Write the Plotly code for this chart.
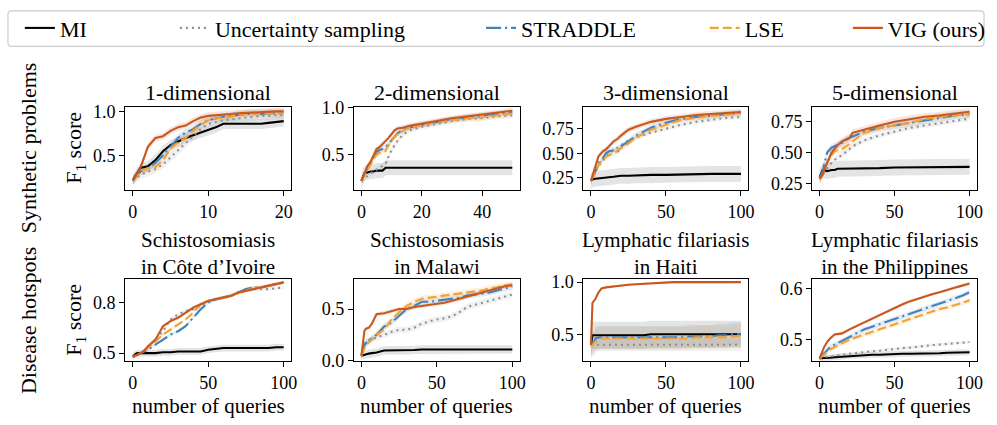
import plotly.graph_objects as go

W, H = 997, 425

METHODS = ["MI", "Uncertainty sampling", "STRADDLE", "LSE", "VIG (ours)"]
COLORS = {
    "MI": "#000000",
    "Uncertainty sampling": "#8a9196",
    "STRADDLE": "#4481bd",
    "LSE": "#f2a235",
    "VIG (ours)": "#c9571f",
}
BAND_COLORS = {
    "MI": "rgba(120,120,120,0.20)",
    "Uncertainty sampling": "rgba(140,140,140,0.12)",
    "STRADDLE": "rgba(68,129,189,0.15)",
    "LSE": "rgba(242,162,53,0.15)",
    "VIG (ours)": "rgba(201,87,31,0.15)",
}
DASHES = {
    "MI": "solid",
    "Uncertainty sampling": "2px,4px",
    "STRADDLE": "15px,4px,2px,4px",
    "LSE": "9px,4px",
    "VIG (ours)": "solid",
}

# ---- Synthetic problems ----
X_1D = list(range(21))
P1 = {
    "MI": [0.22, 0.36, 0.38, 0.45, 0.55, 0.62, 0.66, 0.70, 0.73, 0.76, 0.79, 0.82, 0.86, 0.86, 0.86, 0.86, 0.86, 0.86, 0.87, 0.88, 0.89],
    "Uncertainty sampling": [0.22, 0.28, 0.32, 0.35, 0.40, 0.48, 0.56, 0.64, 0.72, 0.80, 0.86, 0.88, 0.90, 0.91, 0.92, 0.93, 0.94, 0.95, 0.95, 0.96, 0.96],
    "STRADDLE": [0.22, 0.32, 0.36, 0.42, 0.50, 0.60, 0.70, 0.76, 0.80, 0.86, 0.90, 0.92, 0.94, 0.95, 0.96, 0.97, 0.97, 0.97, 0.98, 0.98, 0.98],
    "LSE": [0.22, 0.32, 0.36, 0.37, 0.45, 0.58, 0.65, 0.70, 0.78, 0.85, 0.90, 0.92, 0.93, 0.94, 0.96, 0.97, 0.97, 0.98, 0.98, 0.98, 0.98],
    "VIG (ours)": [0.22, 0.36, 0.60, 0.70, 0.72, 0.78, 0.82, 0.84, 0.89, 0.93, 0.95, 0.955, 0.96, 0.97, 0.98, 0.985, 0.99, 0.99, 1.0, 1.0, 1.0],
}
B1 = {"MI": 0.06, "Uncertainty sampling": 0.05, "STRADDLE": 0.04, "LSE": 0.05, "VIG (ours)": 0.04}

X_2D = [0, 1, 2, 3, 4, 5, 6, 7, 8, 9, 10, 11, 12, 14, 16, 20, 25, 30, 35, 40, 45, 50]
P2 = {
    "MI": [0.22, 0.30, 0.31, 0.32, 0.32, 0.33, 0.33, 0.33, 0.36, 0.36, 0.36, 0.36, 0.36, 0.36, 0.36, 0.36, 0.36, 0.36, 0.36, 0.36, 0.36, 0.36],
    "Uncertainty sampling": [0.22, 0.25, 0.28, 0.30, 0.32, 0.34, 0.36, 0.38, 0.40, 0.48, 0.55, 0.60, 0.65, 0.72, 0.76, 0.80, 0.83, 0.86, 0.88, 0.89, 0.91, 0.92],
    "STRADDLE": [0.22, 0.30, 0.36, 0.42, 0.47, 0.53, 0.55, 0.56, 0.58, 0.62, 0.66, 0.70, 0.73, 0.77, 0.79, 0.82, 0.85, 0.88, 0.90, 0.92, 0.94, 0.95],
    "LSE": [0.22, 0.28, 0.33, 0.40, 0.45, 0.50, 0.52, 0.53, 0.54, 0.60, 0.65, 0.69, 0.72, 0.76, 0.79, 0.82, 0.85, 0.87, 0.89, 0.90, 0.92, 0.94],
    "VIG (ours)": [0.22, 0.30, 0.38, 0.42, 0.50, 0.56, 0.58, 0.61, 0.64, 0.68, 0.72, 0.76, 0.78, 0.79, 0.81, 0.83, 0.86, 0.89, 0.91, 0.93, 0.95, 0.97],
}
B2 = {"MI": 0.08, "Uncertainty sampling": 0.03, "STRADDLE": 0.03, "LSE": 0.03, "VIG (ours)": 0.03}

X_3D = [0, 2, 3, 5, 8, 10, 12, 15, 18, 20, 25, 30, 40, 50, 60, 70, 80, 90, 100]
P3 = {
    "MI": [0.22, 0.24, 0.24, 0.245, 0.25, 0.25, 0.255, 0.26, 0.27, 0.27, 0.27, 0.275, 0.28, 0.28, 0.285, 0.285, 0.29, 0.29, 0.29],
    "Uncertainty sampling": [0.22, 0.27, 0.30, 0.37, 0.43, 0.47, 0.50, 0.53, 0.56, 0.58, 0.63, 0.66, 0.71, 0.75, 0.79, 0.82, 0.84, 0.86, 0.87],
    "STRADDLE": [0.22, 0.28, 0.32, 0.40, 0.45, 0.50, 0.52, 0.53, 0.52, 0.57, 0.62, 0.68, 0.76, 0.81, 0.85, 0.87, 0.88, 0.90, 0.91],
    "LSE": [0.22, 0.27, 0.30, 0.38, 0.44, 0.46, 0.48, 0.50, 0.53, 0.55, 0.60, 0.66, 0.74, 0.79, 0.84, 0.86, 0.88, 0.89, 0.91],
    "VIG (ours)": [0.22, 0.33, 0.38, 0.47, 0.52, 0.54, 0.57, 0.62, 0.65, 0.68, 0.74, 0.77, 0.82, 0.85, 0.87, 0.89, 0.90, 0.91, 0.92],
}
B3 = {"MI": 0.08, "Uncertainty sampling": 0.02, "STRADDLE": 0.03, "LSE": 0.03, "VIG (ours)": 0.03}

X_5D = [0, 2, 3, 5, 8, 10, 12, 15, 20, 22, 25, 30, 40, 50, 60, 70, 80, 90, 100]
P4 = {
    "MI": [0.30, 0.36, 0.36, 0.35, 0.36, 0.36, 0.37, 0.37, 0.37, 0.37, 0.37, 0.375, 0.375, 0.38, 0.38, 0.38, 0.385, 0.385, 0.385],
    "Uncertainty sampling": [0.29, 0.32, 0.34, 0.37, 0.42, 0.44, 0.46, 0.48, 0.53, 0.55, 0.57, 0.60, 0.64, 0.67, 0.70, 0.72, 0.74, 0.76, 0.775],
    "STRADDLE": [0.29, 0.35, 0.40, 0.50, 0.54, 0.55, 0.56, 0.58, 0.62, 0.63, 0.65, 0.67, 0.70, 0.72, 0.74, 0.76, 0.78, 0.80, 0.81],
    "LSE": [0.29, 0.32, 0.35, 0.42, 0.48, 0.51, 0.52, 0.53, 0.57, 0.59, 0.62, 0.66, 0.70, 0.72, 0.74, 0.77, 0.79, 0.80, 0.81],
    "VIG (ours)": [0.29, 0.32, 0.36, 0.42, 0.50, 0.53, 0.56, 0.59, 0.62, 0.66, 0.67, 0.69, 0.72, 0.75, 0.77, 0.79, 0.80, 0.815, 0.83],
}
B4 = {"MI": 0.065, "Uncertainty sampling": 0.02, "STRADDLE": 0.03, "LSE": 0.03, "VIG (ours)": 0.03}

# ---- Disease hotspots ----
X_REAL = [0, 1, 2, 3, 5, 7, 10, 15, 20, 25, 30, 35, 40, 45, 50, 55, 60, 65, 70, 75, 80, 85, 90, 95, 100]
P5 = {
    "MI": [0.48, 0.49, 0.495, 0.50, 0.50, 0.50, 0.50, 0.50, 0.505, 0.505, 0.51, 0.51, 0.51, 0.51, 0.52, 0.525, 0.53, 0.53, 0.53, 0.53, 0.53, 0.53, 0.53, 0.535, 0.535],
    "Uncertainty sampling": [0.48, 0.48, 0.485, 0.49, 0.50, 0.51, 0.54, 0.58, 0.63, 0.70, 0.73, 0.75, 0.76, 0.78, 0.81, 0.82, 0.83, 0.84, 0.86, 0.87, 0.88, 0.88, 0.88, 0.885, 0.89],
    "STRADDLE": [0.48, 0.48, 0.485, 0.49, 0.50, 0.505, 0.52, 0.55, 0.58, 0.61, 0.63, 0.66, 0.71, 0.76, 0.80, 0.82, 0.83, 0.84, 0.86, 0.88, 0.89, 0.89, 0.90, 0.91, 0.92],
    "LSE": [0.48, 0.48, 0.485, 0.49, 0.50, 0.51, 0.53, 0.57, 0.61, 0.64, 0.67, 0.70, 0.74, 0.79, 0.81, 0.82, 0.83, 0.84, 0.86, 0.87, 0.89, 0.89, 0.90, 0.91, 0.92],
    "VIG (ours)": [0.48, 0.485, 0.49, 0.49, 0.50, 0.51, 0.54, 0.58, 0.66, 0.69, 0.71, 0.74, 0.77, 0.79, 0.81, 0.82, 0.83, 0.84, 0.86, 0.87, 0.88, 0.89, 0.90, 0.91, 0.92],
}
B5 = {"MI": 0.02, "Uncertainty sampling": 0.01, "STRADDLE": 0.01, "LSE": 0.01, "VIG (ours)": 0.01}

P6 = {
    "MI": [0.05, 0.055, 0.06, 0.065, 0.07, 0.075, 0.08, 0.10, 0.10, 0.10, 0.10, 0.105, 0.11, 0.11, 0.11, 0.11, 0.11, 0.11, 0.11, 0.11, 0.11, 0.11, 0.11, 0.11, 0.11],
    "Uncertainty sampling": [0.05, 0.12, 0.18, 0.19, 0.20, 0.21, 0.22, 0.25, 0.28, 0.30, 0.30, 0.32, 0.36, 0.38, 0.40, 0.41, 0.43, 0.47, 0.52, 0.54, 0.56, 0.58, 0.60, 0.62, 0.64],
    "STRADDLE": [0.05, 0.10, 0.15, 0.17, 0.20, 0.22, 0.25, 0.33, 0.37, 0.44, 0.50, 0.53, 0.57, 0.57, 0.58, 0.59, 0.60, 0.61, 0.63, 0.64, 0.65, 0.66, 0.68, 0.70, 0.71],
    "LSE": [0.05, 0.09, 0.13, 0.15, 0.18, 0.21, 0.25, 0.30, 0.40, 0.47, 0.53, 0.57, 0.60, 0.61, 0.62, 0.63, 0.64, 0.65, 0.66, 0.67, 0.68, 0.70, 0.71, 0.73, 0.74],
    "VIG (ours)": [0.05, 0.20, 0.29, 0.31, 0.32, 0.36, 0.45, 0.46, 0.48, 0.50, 0.50, 0.52, 0.53, 0.54, 0.55, 0.56, 0.58, 0.60, 0.62, 0.64, 0.66, 0.68, 0.70, 0.72, 0.73],
}
B6 = {"MI": 0.04, "Uncertainty sampling": 0.03, "STRADDLE": 0.03, "LSE": 0.03, "VIG (ours)": 0.02}

P7 = {
    "MI": [0.40, 0.49, 0.49, 0.49, 0.49, 0.49, 0.49, 0.49, 0.49, 0.49, 0.49, 0.49, 0.50, 0.50, 0.50, 0.50, 0.50, 0.50, 0.50, 0.50, 0.50, 0.50, 0.50, 0.50, 0.50],
    "Uncertainty sampling": [0.40, 0.40, 0.40, 0.40, 0.40, 0.40, 0.40, 0.40, 0.40, 0.40, 0.40, 0.40, 0.40, 0.40, 0.40, 0.40, 0.40, 0.40, 0.40, 0.40, 0.40, 0.40, 0.40, 0.40, 0.40],
    "STRADDLE": [0.40, 0.41, 0.42, 0.46, 0.47, 0.47, 0.47, 0.47, 0.47, 0.47, 0.47, 0.47, 0.47, 0.47, 0.47, 0.47, 0.47, 0.48, 0.48, 0.48, 0.48, 0.49, 0.49, 0.50, 0.50],
    "LSE": [0.38, 0.40, 0.42, 0.43, 0.45, 0.46, 0.46, 0.46, 0.46, 0.46, 0.46, 0.46, 0.46, 0.46, 0.46, 0.46, 0.46, 0.46, 0.47, 0.47, 0.47, 0.47, 0.47, 0.48, 0.48],
    "VIG (ours)": [0.40, 0.80, 0.82, 0.84, 0.90, 0.94, 0.95, 0.96, 0.97, 0.975, 0.98, 0.985, 0.99, 0.995, 1.0, 1.0, 1.0, 1.0, 1.0, 1.0, 1.0, 1.0, 1.0, 1.0, 1.0],
}
B7 = {"MI": 0.13, "Uncertainty sampling": 0.06, "STRADDLE": 0.11, "LSE": 0.11, "VIG (ours)": 0.01}

P8 = {
    "MI": [0.463, 0.463, 0.463, 0.464, 0.464, 0.464, 0.465, 0.466, 0.468, 0.469, 0.469, 0.47, 0.47, 0.471, 0.471, 0.472, 0.472, 0.472, 0.473, 0.473, 0.473, 0.474, 0.474, 0.475, 0.475],
    "Uncertainty sampling": [0.463, 0.464, 0.465, 0.465, 0.466, 0.467, 0.468, 0.47, 0.472, 0.474, 0.475, 0.477, 0.478, 0.48, 0.481, 0.483, 0.484, 0.486, 0.487, 0.489, 0.49, 0.491, 0.492, 0.494, 0.495],
    "STRADDLE": [0.463, 0.466, 0.47, 0.473, 0.48, 0.485, 0.49, 0.497, 0.505, 0.513, 0.52, 0.525, 0.53, 0.535, 0.54, 0.545, 0.55, 0.555, 0.56, 0.565, 0.57, 0.575, 0.58, 0.586, 0.593],
    "LSE": [0.463, 0.465, 0.468, 0.47, 0.475, 0.48, 0.485, 0.492, 0.50, 0.505, 0.51, 0.515, 0.52, 0.525, 0.53, 0.535, 0.54, 0.545, 0.55, 0.555, 0.56, 0.563, 0.567, 0.572, 0.577],
    "VIG (ours)": [0.463, 0.47, 0.48, 0.485, 0.495, 0.502, 0.51, 0.512, 0.52, 0.527, 0.535, 0.541, 0.548, 0.555, 0.562, 0.569, 0.575, 0.58, 0.585, 0.589, 0.593, 0.598, 0.602, 0.606, 0.61],
}
B8 = {"MI": 0.006, "Uncertainty sampling": 0.003, "STRADDLE": 0.005, "LSE": 0.005, "VIG (ours)": 0.003}

TITLES = [
    "1-dimensional", "2-dimensional", "3-dimensional", "5-dimensional",
    "Schistosomiasis<br>in Côte d’Ivoire", "Schistosomiasis<br>in Malawi",
    "Lymphatic filariasis<br>in Haiti", "Lymphatic filariasis<br>in the Philippines",
]
ROW_LABELS = ["Synthetic problems", "Disease hotspots"]
PANELS = [
    (X_1D, P1, B1), (X_2D, P2, B2), (X_3D, P3, B3), (X_5D, P4, B4),
    (X_REAL, P5, B5), (X_REAL, P6, B6), (X_REAL, P7, B7), (X_REAL, P8, B8),
]
X_RANGES = [[-1, 21], [-2.5, 52.5]] + [[-5, 105]] * 6
Y_RANGES = [[0.112, 1.054], [0.123, 1.014], [0.126, 0.975], [0.198, 0.872],
            [0.451, 0.94], [-0.005, 0.79], [0.24, 1.03], [0.457, 0.619]]
X_TICKS = [[0, 10, 20], [0, 20, 40]] + [[0, 50, 100]] * 6
Y_TICKS = [[0.5, 1.0], [0.5, 1.0], [0.25, 0.5, 0.75], [0.25, 0.5, 0.75],
           [0.5, 0.8], [0.0, 0.5], [0.5, 1.0], [0.5, 0.6]]
Y_TICKFMT = [".1f", ".1f", ".2f", ".2f", ".1f", ".1f", ".1f", ".1f"]

# axes placement in pixels: column x-extents and row y-extents (top, bottom)
COL_PX = [(126, 293), (356, 523), (587, 753), (817, 983)]
ROW_PX = [(103, 190), (283, 369)]
# vertical centre of the panel titles in each row
TITLE_PY = [88, 256]
# left pixel of each legend entry
LEGEND_PX = [20, 176, 484, 709, 853]

FONT = "Liberation Serif"
TXT = dict(family=FONT, color="black")
fig = go.Figure()


def paper_x(px):
    return px / W


def paper_y(py):
    return 1 - py / H


for i, (xs, series, bands) in enumerate(PANELS):
    r, c = divmod(i, 4)
    xa = "x" if i == 0 else f"x{i + 1}"
    ya = "y" if i == 0 else f"y{i + 1}"
    # shaded spread first, then mean curves on top
    for m in METHODS:
        ys = series[m]
        hw = bands[m]
        upper = [v + hw for v in ys]
        lower = [v - hw for v in ys]
        fig.add_trace(go.Scatter(
            x=list(xs) + list(xs)[::-1], y=upper + lower[::-1],
            fill="toself", fillcolor=BAND_COLORS[m], line=dict(width=0),
            mode="lines", hoverinfo="skip", showlegend=False,
            xaxis=xa, yaxis=ya,
        ))
    for k, m in enumerate(METHODS):
        fig.add_trace(go.Scatter(
            x=xs, y=series[m], mode="lines", name=m,
            line=dict(color=COLORS[m], width=2.1, dash=DASHES[m]),
            showlegend=(i == 0),
            legend="legend" if k == 0 else f"legend{k + 1}",
            xaxis=xa, yaxis=ya,
        ))

    x0, x1 = COL_PX[c]
    top, bot = ROW_PX[r]
    common = dict(showline=True, linecolor="black", linewidth=1.2, mirror=True,
                  ticks="outside", ticklen=5, tickwidth=1.2, tickcolor="black",
                  showgrid=False, zeroline=False,
                  tickfont=dict(size=18, **TXT))
    fig.layout[f"xaxis{'' if i == 0 else i + 1}"] = dict(
        domain=[paper_x(x0), paper_x(x1)], anchor=ya, range=X_RANGES[i],
        tickvals=X_TICKS[i], **common)
    fig.layout[f"yaxis{'' if i == 0 else i + 1}"] = dict(
        domain=[paper_y(bot), paper_y(top)], anchor=xa, range=Y_RANGES[i],
        tickvals=Y_TICKS[i], tickformat=Y_TICKFMT[i], **common)

    xc = paper_x((x0 + x1) / 2)
    fig.add_annotation(text=TITLES[i], xref="paper", yref="paper", x=xc,
                       y=paper_y(TITLE_PY[r]), xanchor="center", yanchor="middle",
                       showarrow=False, font=dict(size=21 if r else 22, **TXT))
    if r == 1:
        fig.add_annotation(
            text="number of queries", xref="paper", yref="paper",
            x=xc, y=paper_y(416), xanchor="center", yanchor="middle",
            showarrow=False, font=dict(size=21, **TXT),
        )

# y-axis labels and row labels
for r, (top, bot) in enumerate(ROW_PX):
    yc = paper_y((top + bot) / 2)
    fig.add_annotation(
        text="F<sub>1</sub> score", xref="paper", yref="paper",
        x=paper_x(76), y=yc, textangle=-90, xanchor="center", yanchor="middle",
        showarrow=False, font=dict(size=22, **TXT),
    )
    fig.add_annotation(
        text=ROW_LABELS[r], xref="paper", yref="paper",
        x=paper_x(28), y=yc, textangle=-90, xanchor="center", yanchor="middle",
        showarrow=False, font=dict(size=22, **TXT),
    )

# frame drawn around the whole legend row
x_l, x_r, y_t, y_b, rad = paper_x(8), paper_x(990), paper_y(3), paper_y(40), 4
rx, ry = rad / W, rad / H
frame_path = (
    f"M{x_l + rx},{y_t} L{x_r - rx},{y_t} Q{x_r},{y_t} {x_r},{y_t - ry} "
    f"L{x_r},{y_b + ry} Q{x_r},{y_b} {x_r - rx},{y_b} "
    f"L{x_l + rx},{y_b} Q{x_l},{y_b} {x_l},{y_b + ry} "
    f"L{x_l},{y_t - ry} Q{x_l},{y_t} {x_l + rx},{y_t} Z"
)
fig.add_shape(type="path", path=frame_path, xref="paper", yref="paper",
              line=dict(color="#cccccc", width=1.2), fillcolor="white", layer="below")

legends = {}
for k, px in enumerate(LEGEND_PX):
    key = "legend" if k == 0 else f"legend{k + 1}"
    legends[key] = dict(
        orientation="h", x=paper_x(px), y=paper_y(21), xanchor="left", yanchor="middle",
        bgcolor="rgba(0,0,0,0)", borderwidth=0,
        font=dict(size=22, **TXT),
    )

fig.update_layout(
    width=W, height=H,
    margin=dict(l=0, r=0, t=0, b=0),
    paper_bgcolor="white", plot_bgcolor="white",
    font=TXT,
    **legends,
)

fig.write_html("out.html")
